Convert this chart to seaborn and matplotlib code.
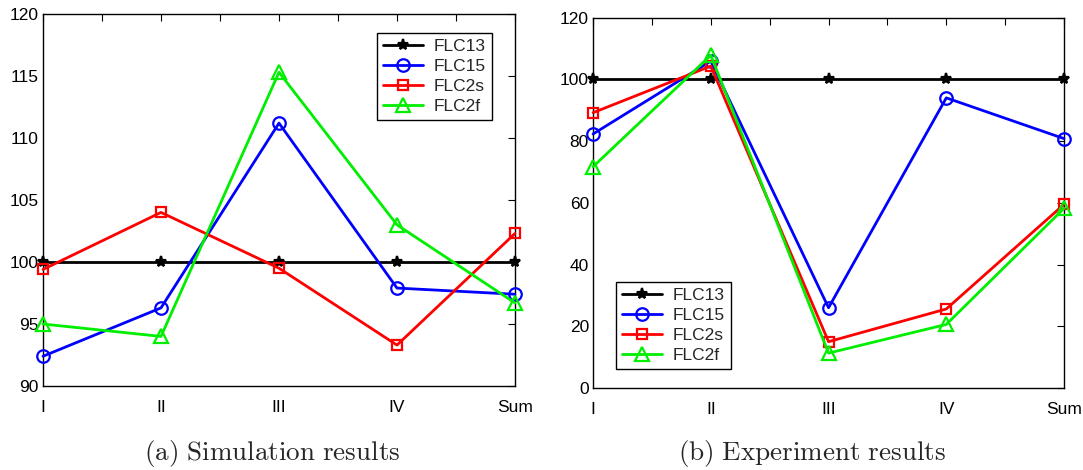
import numpy as np
import pandas as pd
import matplotlib
matplotlib.use("Agg")
import matplotlib.pyplot as plt
import seaborn as sns
from matplotlib.ticker import MultipleLocator

categories = ["I", "II", "III", "IV", "Sum"]
series_names = ["FLC13", "FLC15", "FLC2s", "FLC2f"]

sim_flc13 = [100, 100, 100, 100, 100]
sim_flc15 = [92.4, 96.3, 111.2, 97.9, 97.4]
sim_flc2s = [99.4, 104.0, 99.5, 93.3, 102.3]
sim_flc2f = [95.0, 94.0, 115.3, 103.0, 96.7]

exp_flc13 = [100, 100, 100, 100, 100]
exp_flc15 = [82.3, 105.9, 26.0, 94.0, 80.8]
exp_flc2s = [89.2, 104.3, 15.0, 25.6, 59.5]
exp_flc2f = [71.7, 107.8, 11.3, 20.6, 58.2]

captions = ["(a) Simulation results", "(b) Experiment results"]

sns.set_style("white")
plt.rcParams["font.family"] = ["Liberation Sans", "DejaVu Sans"]
plt.rcParams["mathtext.fontset"] = "cm"

colors = {"FLC13": "black", "FLC15": "#0000ff", "FLC2s": "#ff0000", "FLC2f": "#00ee00"}
markers = {"FLC13": "*", "FLC15": "o", "FLC2s": "s", "FLC2f": "^"}
msizes = {"FLC13": 8, "FLC15": 9, "FLC2s": 7, "FLC2f": 10}

fig = plt.figure(figsize=(10.83, 4.70), dpi=100)
ax1 = fig.add_axes([0.0397, 0.1787, 0.4358, 0.7915])
ax2 = fig.add_axes([0.5476, 0.1745, 0.4349, 0.788])

x = np.arange(len(categories))

def draw(ax, data, ylim, ystep, legend_loc, bbox):
    for name, vals in zip(series_names, data):
        filled = name == "FLC13"
        sns.lineplot(x=x, y=vals, ax=ax, color=colors[name], marker=markers[name],
                     markersize=msizes[name], linewidth=2.0,
                     markerfacecolor=colors[name] if filled else "none",
                     markeredgecolor=colors[name], markeredgewidth=1.6,
                     label=name, legend=False, clip_on=False, zorder=3)
    ax.set_xlim(0, len(categories) - 1)
    ax.set_ylim(*ylim)
    ax.set_xticks(x)
    ax.set_xticklabels(categories)
    ax.xaxis.set_minor_locator(MultipleLocator(0.5))
    ax.yaxis.set_major_locator(MultipleLocator(ystep))
    ax.tick_params(which="both", direction="in", top=True, right=True,
                   length=5, width=0.8, labelsize=12.5, colors="black")
    ax.tick_params(axis="x", which="both", pad=10)
    ax.tick_params(axis="y", which="both", pad=3)
    for s in ax.spines.values():
        s.set_visible(True)
        s.set_color("black")
        s.set_linewidth(1.0)
    handles, labels = ax.get_legend_handles_labels()
    leg = ax.legend(handles, labels, loc=legend_loc, bbox_to_anchor=bbox,
                    fontsize=12.5, frameon=True, fancybox=False, edgecolor="black",
                    framealpha=1, handlelength=2.3, borderpad=0.35, labelspacing=0.27,
                    handletextpad=0.6, borderaxespad=0)
    leg.get_frame().set_linewidth(1.0)
    leg.set_zorder(5)
    ax.set_xlabel("")
    ax.set_ylabel("")

draw(ax1, [sim_flc13, sim_flc15, sim_flc2s, sim_flc2f], (90, 120), 5,
     "upper right", (0.951, 0.949))
draw(ax2, [exp_flc13, exp_flc15, exp_flc2s, exp_flc2f], (0, 120), 20,
     "lower left", (0.049, 0.051))

fig.text(0.251, 0.036, r"$\mathrm{" + captions[0].replace(" ", r"\ ") + "}$",
         ha="center", va="center", fontsize=19.5)
fig.text(0.75, 0.036, r"$\mathrm{" + captions[1].replace(" ", r"\ ") + "}$",
         ha="center", va="center", fontsize=19.5)

fig.savefig("out.png", dpi=100)
